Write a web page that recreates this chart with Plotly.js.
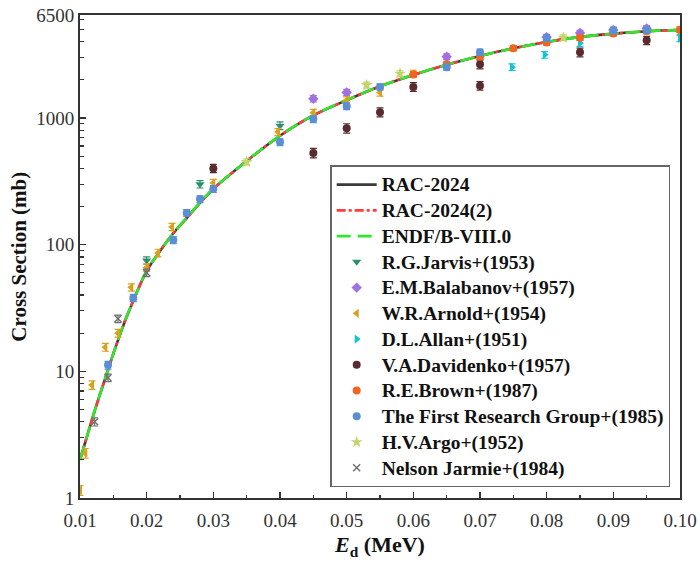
<!DOCTYPE html>
<html>
<head>
<meta charset="utf-8">
<script src="https://cdn.plot.ly/plotly-3.0.1.min.js"></script>
<style>
  html, body { margin: 0; padding: 0; background: #fff; }
  #chart { width: 700px; height: 575px; }
</style>
</head>
<body>
<div id="chart"></div>
<script>
/* ── Evaluated curves (Ed in MeV, cross section in mb) ── */
var E_CURVE = [0.010, 0.011, 0.012, 0.013, 0.014, 0.015, 0.016, 0.017, 0.018, 0.019,
               0.020, 0.022, 0.024, 0.026, 0.028, 0.030, 0.035, 0.040, 0.045, 0.050,
               0.055, 0.060, 0.065, 0.070, 0.075, 0.080, 0.085, 0.090, 0.095, 0.100];
var RAC_2024   = [2.0, 3.0, 4.5, 6.6, 9.5, 13.8, 19.5, 27, 36, 48,
                  62, 89, 123, 162, 214, 275, 457, 724, 1047, 1380,
                  1778, 2188, 2630, 3090, 3548, 3981, 4365, 4624, 4842, 4950];
var RAC_2024_2 = [2.0, 3.0, 4.5, 6.6, 9.5, 13.8, 19.5, 27, 36, 48,
                  62, 89, 123, 162, 214, 275, 457, 724, 1047, 1380,
                  1778, 2188, 2630, 3090, 3548, 3981, 4365, 4624, 4842, 4950];
var ENDF_B8    = [2.0, 3.0, 4.5, 6.6, 9.5, 13.8, 19.6, 27, 36, 48,
                  62, 89, 123, 163, 214, 276, 458, 726, 1050, 1385,
                  1780, 2190, 2630, 3085, 3540, 3975, 4360, 4620, 4840, 4945];

/* ── Experimental data: energy, cross section, uncertainty ── */
var JARVIS_E   = [0.020, 0.028, 0.040];
var JARVIS_S   = [75, 300, 870];
var JARVIS_ERR = [5, 20, 60];

var BALAB_E   = [0.045, 0.050, 0.065, 0.080, 0.085, 0.090, 0.095];
var BALAB_S   = [1420, 1590, 3050, 4350, 4680, 4950, 5100];
var BALAB_ERR = [80, 90, 160, 220, 240, 260, 270];

var ARNOLD_E   = [0.0100, 0.0108, 0.0118, 0.0138, 0.0157, 0.0177, 0.0200, 0.0217,
                  0.0238, 0.0300, 0.0397, 0.0450, 0.0500, 0.0550, 0.0600, 0.1000];
var ARNOLD_S   = [1.15, 2.26, 7.8, 15.5, 20, 46, 66, 86,
                  138, 307, 775, 1100, 1380, 1590, 2240, 4760];
var ARNOLD_ERR = [0.1, 0.2, 0.6, 1.1, 1.4, 3, 4.5, 6,
                  9, 20, 50, 70, 90, 100, 140, 300];

var ALLAN_E   = [0.0748, 0.0797, 0.0850, 0.1000];
var ALLAN_S   = [2520, 3150, 3900, 4270];
var ALLAN_ERR = [150, 190, 230, 260];

var DAVID_E   = [0.030, 0.045, 0.050, 0.055, 0.060, 0.070, 0.070, 0.085, 0.095];
var DAVID_S   = [400, 530, 830, 1110, 1760, 1800, 2650, 3300, 4100];
var DAVID_ERR = [30, 45, 70, 90, 140, 140, 210, 260, 300];

var BROWN_E   = [0.060, 0.065, 0.070, 0.075, 0.080, 0.085, 0.090, 0.095, 0.100];
var BROWN_S   = [2200, 2650, 3050, 3550, 3950, 4300, 4650, 4850, 4980];
var BROWN_ERR = [110, 130, 150, 170, 190, 210, 230, 240, 250];

var FRG_E   = [0.0142, 0.018, 0.024, 0.026, 0.028, 0.030, 0.040, 0.045,
               0.050, 0.055, 0.065, 0.070, 0.080, 0.090, 0.095];
var FRG_S   = [11.2, 38, 109, 178, 229, 275, 645, 980,
               1240, 1760, 2520, 3300, 4270, 4900, 4950];
var FRG_ERR = [0.8, 2.5, 7, 11, 14, 17, 40, 60,
               75, 100, 150, 190, 250, 280, 290];

var ARGO_E   = [0.035, 0.053, 0.058, 0.0825];
var ARGO_S   = [450, 1820, 2240, 4300];
var ARGO_ERR = [25, 100, 120, 230];

var JARMIE_E   = [0.0122, 0.0142, 0.0157, 0.020];
var JARMIE_S   = [4.0, 8.9, 26, 60];
var JARMIE_ERR = [0.3, 0.6, 1.8, 4];

/* ── Axis ticks ── */
var X_TICKS = [0.01, 0.02, 0.03, 0.04, 0.05, 0.06, 0.07, 0.08, 0.09, 0.10];
var X_LABELS = ['0.01', '0.02', '0.03', '0.04', '0.05', '0.06', '0.07', '0.08', '0.09', '0.10'];
var Y_TICKS = [1, 10, 100, 1000, 6500];
var Y_LABELS = ['1', '10', '100', '1000', '6500'];
var Y_MINOR = [2, 3, 4, 5, 6, 7, 8, 9, 20, 30, 40, 50, 60, 70, 80, 90,
               200, 300, 400, 500, 600, 700, 800, 900, 2000, 3000, 4000, 5000, 6000];

(function () {
  'use strict';

  var SERIF = '"Liberation Serif", "Times New Roman", serif';

  /* legend names drawn a bit larger than the row pitch would allow */
  function lbl(s) { return '<span style="font-size:19.5px">' + s + '</span>'; }

  function curve(name, x, y, color, dash) {
    return {
      x: x, y: y, name: lbl(name),
      type: 'scatter', mode: 'lines',
      line: { color: color, width: 2.6, dash: dash, shape: 'spline' },
      hoverinfo: 'skip',
    };
  }

  function points(name, x, y, err, color, symbol, size) {
    var m = { color: color, size: size || 8, symbol: symbol };
    if (symbol.indexOf('x') === 0) m.line = { color: color, width: 1.4 };
    return {
      x: x, y: y, name: lbl(name),
      type: 'scatter', mode: 'markers',
      marker: m,
      error_y: { type: 'data', array: err, visible: true, color: color, thickness: 1.2, width: 3.5 },
      hoverinfo: 'skip',
    };
  }

  var traces = [
    curve('RAC-2024', E_CURVE, RAC_2024, '#3a3a3a', 'solid'),
    curve('RAC-2024(2)', E_CURVE, RAC_2024_2, '#ff3b3b', 'dashdot'),
    curve('ENDF/B-VIII.0', E_CURVE, ENDF_B8, '#2ee82e', '14px,7px'),
    points('R.G.Jarvis+(1953)', JARVIS_E, JARVIS_S, JARVIS_ERR, '#2f8f6c', 'triangle-down'),
    points('E.M.Balabanov+(1957)', BALAB_E, BALAB_S, BALAB_ERR, '#a071e3', 'diamond'),
    points('W.R.Arnold+(1954)', ARNOLD_E, ARNOLD_S, ARNOLD_ERR, '#d9a11c', 'triangle-left'),
    points('D.L.Allan+(1951)', ALLAN_E, ALLAN_S, ALLAN_ERR, '#17c2d6', 'triangle-right'),
    points('V.A.Davidenko+(1957)', DAVID_E, DAVID_S, DAVID_ERR, '#5a2b2e', 'circle'),
    points('R.E.Brown+(1987)', BROWN_E, BROWN_S, BROWN_ERR, '#f0651f', 'circle'),
    points('The First Research Group+(1985)', FRG_E, FRG_S, FRG_ERR, '#5b8fd4', 'circle'),
    points('H.V.Argo+(1952)', ARGO_E, ARGO_S, ARGO_ERR, '#c4d36c', 'star', 9),
    points('Nelson Jarmie+(1984)', JARMIE_E, JARMIE_S, JARMIE_ERR, '#6e6e6e', 'x-thin', 7),
  ];

  var layout = {
    width: 700, height: 575,
    margin: { l: 80, r: 20, t: 15, b: 77 },
    paper_bgcolor: '#fff',
    plot_bgcolor: '#fff',
    font: { family: SERIF, size: 18, color: '#222' },
    showlegend: true,
    xaxis: {
      range: [0.01, 0.1],
      tickvals: X_TICKS, ticktext: X_LABELS,
      ticks: 'inside', ticklen: 6, tickwidth: 1.5, tickcolor: '#333',
      ticklabelstandoff: 4,
      minor: { dtick: 0.005, tick0: 0.01, ticks: 'inside', ticklen: 3.5, tickwidth: 1.5, tickcolor: '#333' },
      tickfont: { family: SERIF, size: 19, color: '#333' },
      showline: true, linecolor: '#333', linewidth: 2, mirror: true,
      showgrid: false, zeroline: false,
      title: {
        text: '<b><i>E</i><sub>d</sub> (MeV)</b>',
        font: { family: SERIF, size: 22, color: '#111' },
        standoff: 7,
      },
    },
    yaxis: {
      type: 'log',
      range: [0, Math.log10(6500)],
      tickvals: Y_TICKS, ticktext: Y_LABELS,
      ticks: 'inside', ticklen: 6, tickwidth: 1.5, tickcolor: '#333',
      minor: { tickvals: Y_MINOR, ticks: 'inside', ticklen: 3.5, tickwidth: 1.2, tickcolor: '#333' },
      tickfont: { family: SERIF, size: 19, color: '#333' },
      showline: true, linecolor: '#333', linewidth: 2, mirror: true,
      showgrid: false, zeroline: false,
    },
    /* y title as an annotation so it sits centred on the plot height */
    annotations: [{
      text: '<b>Cross Section (mb)</b>',
      xref: 'paper', yref: 'paper', x: -0.103, y: 0.5,
      xanchor: 'center', yanchor: 'middle', textangle: -90,
      showarrow: false,
      font: { family: SERIF, size: 21, color: '#111' },
    }],
    legend: {
      x: 0.417, y: 0.689, xanchor: 'left', yanchor: 'top',
      bgcolor: '#fff', bordercolor: '#666', borderwidth: 1.5,
      font: { family: SERIF, size: 17.5, color: '#111', weight: 'bold' },
      itemwidth: 40,
    },
  };

  Plotly.newPlot('chart', traces, layout, { displayModeBar: false, staticPlot: true });
})();
</script>
</body>
</html>
